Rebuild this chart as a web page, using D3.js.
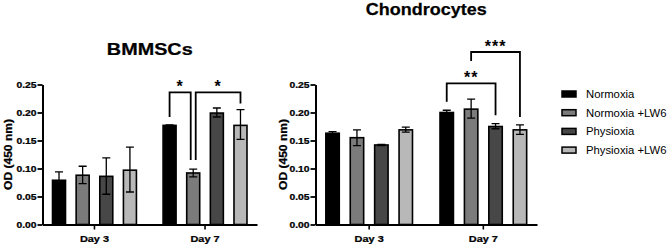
<!DOCTYPE html>
<html>
<head>
<meta charset="utf-8">
<script src="https://cdn.jsdelivr.net/npm/d3@7"></script>
<style>
  body { margin: 0; background: #fff; }
  text { font-family: "Liberation Sans", Arial, sans-serif; }
  .heavy { stroke: #000; stroke-width: 0.25px; }
</style>
</head>
<body>
<div id="chart"></div>
<script>
// data
const days = ["Day 3", "Day 7"];
const groups = ["Normoxia", "Normoxia +LW6", "Physioxia", "Physioxia +LW6"];
const fills = ["#000000", "#7b7b7b", "#474747", "#b8b8b8"];
const yTicks = [0, 0.05, 0.10, 0.15, 0.20, 0.25];

// mean, low and high of error bar, per day, per group
const bmMean = [[0.079, 0.088, 0.086, 0.097], [0.177, 0.092, 0.199, 0.177]];
const bmLow  = [[0.063, 0.073, 0.054, 0.058], [0.176, 0.085, 0.192, 0.152]];
const bmHigh = [[0.094, 0.104, 0.119, 0.138], [0.178, 0.099, 0.208, 0.205]];

const chMean = [[0.163, 0.155, 0.142, 0.169], [0.200, 0.206, 0.175, 0.169]];
const chLow  = [[0.160, 0.141, 0.141, 0.165], [0.198, 0.190, 0.171, 0.161]];
const chHigh = [[0.166, 0.169, 0.143, 0.174], [0.204, 0.224, 0.180, 0.178]];

// significance brackets: [day, from group, to group, top, left leg end, right leg end, label]
const bmSig = [
  [1, 0, 1, 0.236, 0.192, 0.115, "*"],
  [1, 1, 3, 0.236, 0.115, 0.216, "*"]
];
const chSig = [
  [1, 0, 2, 0.252, 0.219, 0.195, "**"],
  [1, 1, 3, 0.308, 0.292, 0.192, "***"]
];

const W = 669, H = 245;
const svg = d3.select("#chart").append("svg")
  .attr("width", W).attr("height", H);

const stretch = 1.15;   // the figure's bold text is a bit wide

function drawPanel(opt) {
  const g = svg.append("g");
  const y = d3.scaleLinear().domain([0, 0.25]).range([224.5, 84.5]);
  const x0 = d3.scaleBand().domain(days).range([opt.left, opt.right])
    .paddingInner(0.1).paddingOuter(0.02);
  const x1 = d3.scaleBand().domain(groups).range([0, x0.bandwidth()])
    .paddingInner(0.45).paddingOuter(0.33);

  // bars
  days.forEach((day, di) => {
    groups.forEach((grp, gi) => {
      const cx = x0(day) + x1(grp);
      g.append("rect")
        .attr("x", cx)
        .attr("y", y(opt.mean[di][gi]))
        .attr("width", x1.bandwidth())
        .attr("height", y(0) - y(opt.mean[di][gi]))
        .attr("fill", fills[gi])
        .attr("stroke", "#000")
        .attr("stroke-width", 1.6);

      const mx = cx + x1.bandwidth() / 2;
      const eb = d3.path();
      eb.moveTo(mx, y(opt.low[di][gi])); eb.lineTo(mx, y(opt.high[di][gi]));
      eb.moveTo(mx - 4, y(opt.high[di][gi])); eb.lineTo(mx + 4, y(opt.high[di][gi]));
      eb.moveTo(mx - 4, y(opt.low[di][gi])); eb.lineTo(mx + 4, y(opt.low[di][gi]));
      g.append("path").attr("d", eb.toString())
        .attr("fill", "none").attr("stroke", "#000").attr("stroke-width", 1.3);
    });
  });

  // y axis
  const yAxis = g.append("g")
    .attr("transform", `translate(${opt.left},0)`)
    .call(d3.axisLeft(y).tickValues(yTicks).tickFormat(d3.format(".2f"))
      .tickSize(5).tickPadding(1).tickSizeOuter(0));
  yAxis.select(".domain").attr("stroke-width", 2);
  yAxis.selectAll(".tick line").attr("stroke-width", 1.8);
  yAxis.selectAll(".tick text")
    .attr("class", "heavy")
    .attr("font-size", 9).attr("font-weight", "bold")
    .attr("font-family", "Liberation Sans, Arial, sans-serif")
    .attr("fill", "#000")
    .attr("x", -6 / stretch)
    .attr("transform", `scale(${stretch},1)`);

  // x axis
  const xAxis = g.append("g")
    .attr("transform", `translate(0,${y(0)})`)
    .call(d3.axisBottom(x0).tickSize(5).tickPadding(6).tickSizeOuter(0));
  xAxis.select(".domain").attr("stroke-width", 2);
  xAxis.selectAll(".tick line").attr("stroke-width", 1.6);
  xAxis.selectAll(".tick text")
    .attr("class", "heavy")
    .attr("font-size", 9.5).attr("font-weight", "bold")
    .attr("font-family", "Liberation Sans, Arial, sans-serif")
    .attr("fill", "#000")
    .attr("transform", `scale(${stretch},1)`)
    .attr("x", 0);

  // y label
  g.append("text")
    .attr("class", "heavy")
    .attr("transform", `translate(${opt.labelX},${(y(0) + y(0.25)) / 2}) rotate(-90) scale(${stretch},1)`)
    .attr("text-anchor", "middle")
    .attr("font-size", 10.5).attr("font-weight", "bold")
    .text("OD (450 nm)");

  // title
  g.append("text")
    .attr("class", "heavy")
    .attr("transform", `translate(${(opt.left + opt.right) / 2},${opt.titleY}) scale(${opt.titleStretch},1)`)
    .attr("text-anchor", "middle")
    .attr("font-size", 16.5).attr("font-weight", "bold")
    .text(opt.title);

  // brackets
  const barMid = (di, gi) => x0(days[di]) + x1(groups[gi]) + x1.bandwidth() / 2;
  const uses = {};
  opt.sig.forEach(s => {
    [s[1], s[2]].forEach(gi => {
      const k = s[0] + "-" + gi;
      uses[k] = (uses[k] || 0) + 1;
    });
  });
  opt.sig.forEach(s => {
    const [di, a, b, top, endA, endB, label] = s;
    let xa = barMid(di, a), xb = barMid(di, b);
    if (uses[di + "-" + a] > 1) xa += 2.5;
    if (uses[di + "-" + b] > 1) xb -= 2.5;
    const p = d3.path();
    p.moveTo(xa, y(endA)); p.lineTo(xa, y(top)); p.lineTo(xb, y(top)); p.lineTo(xb, y(endB));
    g.append("path").attr("d", p.toString())
      .attr("fill", "none").attr("stroke", "#000").attr("stroke-width", 1.8);
    g.append("text")
      .attr("x", (xa + xb) / 2)
      .attr("y", y(top) - 0.5)
      .attr("text-anchor", "middle")
      .attr("font-size", 16).attr("font-weight", "bold")
      .attr("letter-spacing", 1)
      .text(label);
  });
}

drawPanel({
  left: 42.5, right: 257, labelX: 11.5, title: "BMMSCs", titleY: 55, titleStretch: 1.2,
  mean: bmMean, low: bmLow, high: bmHigh, sig: bmSig
});
drawPanel({
  left: 315.5, right: 537, labelX: 286.5, title: "Chondrocytes", titleY: 14.5, titleStretch: 1.09,
  mean: chMean, low: chLow, high: chHigh, sig: chSig
});

// legend
const legend = svg.append("g").attr("transform", "translate(562,94)");
groups.forEach((grp, i) => {
  const row = legend.append("g").attr("transform", `translate(0,${i * 18.7})`);
  row.append("rect")
    .attr("x", 0).attr("y", -3).attr("width", 14).attr("height", 6)
    .attr("fill", fills[i]).attr("stroke", "#000").attr("stroke-width", 1.5);
  row.append("text")
    .attr("x", 24).attr("y", 4)
    .attr("font-size", 11.3)
    .text(grp);
});
</script>
</body>
</html>
